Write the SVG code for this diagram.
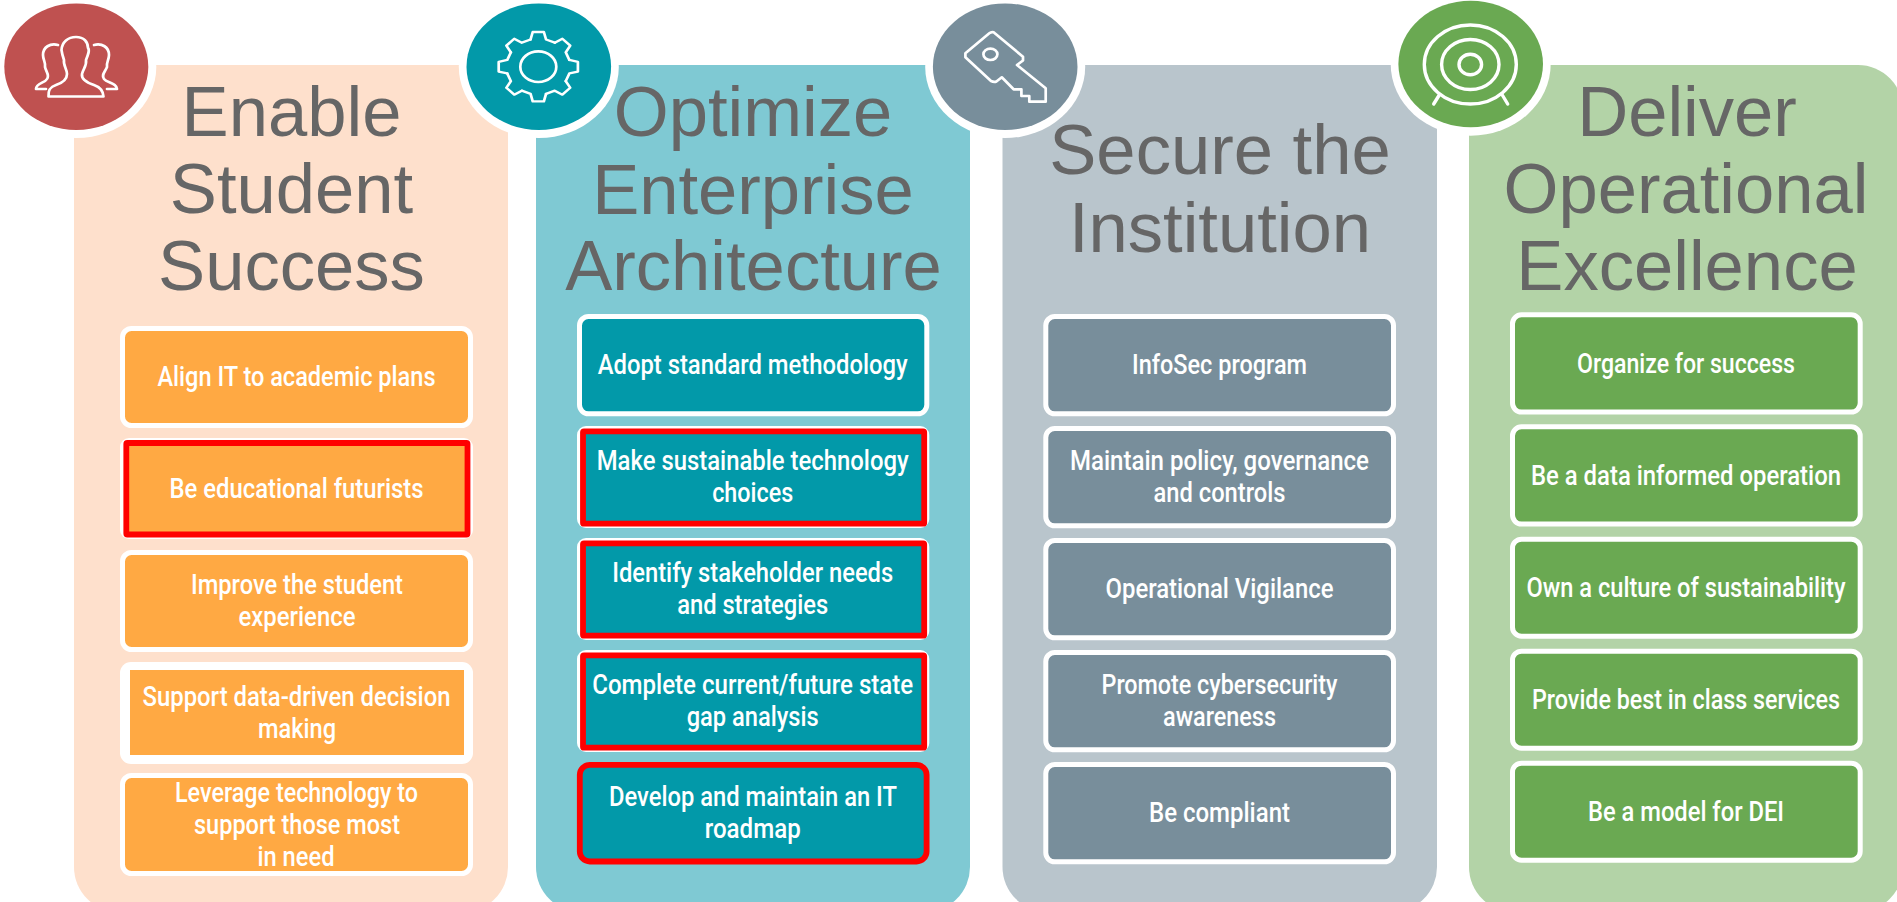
<svg xmlns="http://www.w3.org/2000/svg" width="1897" height="902" viewBox="0 0 1897 902">
<style>
.h{font-family:"Liberation Sans",Arial,sans-serif;font-size:70.6px;fill:#666;text-anchor:middle}
.t{font-family:"Liberation Sans Narrow","Roboto",sans-serif;font-size:27.5px;font-weight:500;fill:#fff;text-anchor:middle}
.halo{fill:#fff}
.i{fill:none;stroke:#fff;stroke-width:2.7;stroke-linejoin:round;stroke-linecap:round}
.w{stroke:#fff;stroke-width:5}
.r{stroke:#f00;stroke-width:5.8}
.o{fill:#ffa943}.c{fill:#0299a9}.g{fill:#788e9b}.v{fill:#6aa952}
</style>
<defs>
<path id="tooth" d="M31.05,-7.74 L39.6,-5.57 V5.57 L31.05,7.74 L27.43,16.48"/>
</defs>
<g id="connectors"/>

<g id="enable-student-success">
<rect x="74" y="65" width="434" height="847" rx="45" fill="#fee0cc"/>
<ellipse class="halo" cx="76.3" cy="66.7" rx="80" ry="71.3"/>
<ellipse cx="76.3" cy="66.7" rx="72" ry="63.3" fill="#bf5150"/>
<g class="i">
<path d="M48.5,96.5 H103.5 C103,90 100,87 94,85 C88,83 81,80 82,74 C83,69 87,66 86,60 C88,55 90,50 88,48 C88,42 84,37 76,37 C68,37 62,42 61.5,50 C62,54 63,57 64,60 C63,65 67,69 67,74 C67,80 62,83 56,85 C50,87 48,90 48.5,96.5Z"/>
<path d="M58,45 C50,43 43,47 43,55 C43,60 46,63 45,67 C46,72 50,75 47,79 C45,83 36,83 36,89 H46"/>
<path d="M94,45 C102,43 109,47 109,55 C109,60 106,63 107,67 C105,72 101,75 104,79 C107,83 117,83 117,89 H107"/>
</g>
<text class="h" x="291.5" y="136">Enable</text>
<text class="h" x="291.5" y="213">Student</text>
<text class="h" x="291.5" y="290">Success</text>
</g>
<g id="b1-1"><rect class="o w" x="122.5" y="328.5" width="348" height="97" rx="9"/><text class="t" x="296.5" y="386" textLength="278" lengthAdjust="spacingAndGlyphs">Align IT to academic plans</text></g>
<g id="b1-2"><rect fill="#fff" x="120" y="438" width="353" height="101" rx="9"/><rect class="o r" x="126.3" y="443" width="341.2" height="91.5" rx="1"/><text class="t" x="296.5" y="498" textLength="254" lengthAdjust="spacingAndGlyphs">Be educational futurists</text></g>
<g id="b1-3"><rect class="o w" x="122.5" y="552.5" width="348" height="97" rx="9"/><text class="t" x="297" y="594" textLength="212" lengthAdjust="spacingAndGlyphs">Improve the student</text><text class="t" x="297" y="626" textLength="117" lengthAdjust="spacingAndGlyphs">experience</text></g>
<g id="b1-4"><rect fill="#fff" x="120" y="662" width="353" height="102" rx="11"/><rect class="o" x="130" y="670" width="334" height="85"/><text class="t" x="296.5" y="706" textLength="308" lengthAdjust="spacingAndGlyphs">Support data-driven decision</text><text class="t" x="297" y="738" textLength="78" lengthAdjust="spacingAndGlyphs">making</text></g>
<g id="b1-5"><rect class="o w" x="122.5" y="775.5" width="348" height="98" rx="9"/><text class="t" x="296.5" y="802" textLength="243" lengthAdjust="spacingAndGlyphs">Leverage technology to</text><text class="t" x="297" y="834" textLength="206" lengthAdjust="spacingAndGlyphs">support those most</text><text class="t" x="296" y="866" textLength="77" lengthAdjust="spacingAndGlyphs">in need</text></g>

<g id="optimize-enterprise-architecture">
<rect x="536" y="65" width="434" height="847" rx="45" fill="#7fc9d3"/>
<ellipse class="halo" cx="538.8" cy="66.7" rx="80" ry="71.3"/>
<ellipse cx="538.8" cy="66.7" rx="72.3" ry="63.3" fill="#0299a9"/>
<g class="i">
<ellipse cx="538.3" cy="66.7" rx="18" ry="15.3"/>
<g transform="translate(538.3,66.7) scale(1,.875)">
<use href="#tooth"/><use href="#tooth" transform="rotate(45)"/><use href="#tooth" transform="rotate(90)"/><use href="#tooth" transform="rotate(135)"/><use href="#tooth" transform="rotate(180)"/><use href="#tooth" transform="rotate(225)"/><use href="#tooth" transform="rotate(270)"/><use href="#tooth" transform="rotate(315)"/>
</g>
</g>
<text class="h" x="753" y="136">Optimize</text>
<text class="h" x="753" y="213.5">Enterprise</text>
<text class="h" x="753.5" y="290">Architecture</text>
</g>
<g id="b2-1"><rect class="c w" x="579.5" y="316.5" width="347.3" height="97.3" rx="9"/><text class="t" x="752.7" y="374" textLength="310" lengthAdjust="spacingAndGlyphs">Adopt standard methodology</text></g>
<g id="b2-2"><rect fill="#fff" x="577" y="426" width="352.3" height="102" rx="9"/><rect class="c r" x="583" y="431.3" width="341.2" height="92.4" rx="1"/><text class="t" x="752.7" y="470" textLength="312" lengthAdjust="spacingAndGlyphs">Make sustainable technology</text><text class="t" x="752.7" y="502" textLength="81" lengthAdjust="spacingAndGlyphs">choices</text></g>
<g id="b2-3"><rect fill="#fff" x="577" y="538" width="352.3" height="102" rx="9"/><rect class="c r" x="583" y="543.3" width="341.2" height="92.4" rx="1"/><text class="t" x="752.7" y="582" textLength="281" lengthAdjust="spacingAndGlyphs">Identify stakeholder needs</text><text class="t" x="752.7" y="614" textLength="151" lengthAdjust="spacingAndGlyphs">and strategies</text></g>
<g id="b2-4"><rect fill="#fff" x="577" y="650" width="352.3" height="102" rx="9"/><rect class="c r" x="583" y="655.3" width="341.2" height="92.4" rx="1"/><text class="t" x="752.7" y="694" textLength="321" lengthAdjust="spacingAndGlyphs">Complete current/future state</text><text class="t" x="752.7" y="726" textLength="132" lengthAdjust="spacingAndGlyphs">gap analysis</text></g>
<g id="b2-5"><rect class="c r" x="579.8" y="764.8" width="346.8" height="96.7" rx="10"/><text class="t" x="753" y="806" textLength="288" lengthAdjust="spacingAndGlyphs">Develop and maintain an IT</text><text class="t" x="752.7" y="838" textLength="96" lengthAdjust="spacingAndGlyphs">roadmap</text></g>

<g id="secure-the-institution">
<rect x="1002.5" y="65" width="434.5" height="847" rx="45" fill="#b9c5cc"/>
<ellipse class="halo" cx="1005.2" cy="66.7" rx="80" ry="71.3"/>
<ellipse cx="1005.2" cy="66.7" rx="72.3" ry="63.3" fill="#788e9b"/>
<g class="i">
<path d="M993.6,32.3 L1023,56.7 V60.5 L1017,65 L1045.7,88.3 V101.7 H1029.3 V96 H1021.4 V89.3 H1013.6 L1001.8,77.3 L996.4,81.5 Q994,82.5 991,81 L965.4,57.3 V53.3 L989.3,33.3 Q991.5,31.5 993.6,32.3Z"/>
<ellipse cx="990.4" cy="54.3" rx="7" ry="5.7"/>
</g>
<text class="h" x="1220" y="174">Secure the</text>
<text class="h" x="1220" y="251.5">Institution</text>
</g>
<g id="b3-1"><rect class="g w" x="1045.8" y="316.5" width="347.7" height="97.3" rx="9"/><text class="t" x="1219.5" y="374" textLength="175" lengthAdjust="spacingAndGlyphs">InfoSec program</text></g>
<g id="b3-2"><rect class="g w" x="1045.8" y="428.5" width="347.7" height="97.3" rx="9"/><text class="t" x="1219.5" y="470" textLength="299" lengthAdjust="spacingAndGlyphs">Maintain policy, governance</text><text class="t" x="1219.5" y="502" textLength="132" lengthAdjust="spacingAndGlyphs">and controls</text></g>
<g id="b3-3"><rect class="g w" x="1045.8" y="540.5" width="347.7" height="97.3" rx="9"/><text class="t" x="1219.5" y="598" textLength="228" lengthAdjust="spacingAndGlyphs">Operational Vigilance</text></g>
<g id="b3-4"><rect class="g w" x="1045.8" y="652.5" width="347.7" height="97.3" rx="9"/><text class="t" x="1219.5" y="694" textLength="236" lengthAdjust="spacingAndGlyphs">Promote cybersecurity</text><text class="t" x="1219.5" y="726" textLength="113" lengthAdjust="spacingAndGlyphs">awareness</text></g>
<g id="b3-5"><rect class="g w" x="1045.8" y="764.5" width="347.7" height="97.3" rx="9"/><text class="t" x="1219.5" y="821.7" textLength="141" lengthAdjust="spacingAndGlyphs">Be compliant</text></g>

<g id="deliver-operational-excellence">
<rect x="1469" y="65" width="434" height="847" rx="45" fill="#b3d3a7"/>
<ellipse class="halo" cx="1470.7" cy="64" rx="80" ry="71.7"/>
<ellipse cx="1470.7" cy="64" rx="72.3" ry="63.3" fill="#6aa952"/>
<g class="i" style="stroke-width:3.4">
<ellipse cx="1470.3" cy="64.5" rx="46" ry="39.5"/>
<ellipse cx="1470.3" cy="64.5" rx="28.7" ry="25"/>
<ellipse cx="1470.3" cy="64.5" rx="11.3" ry="10.3"/>
<path d="M1439.3,95 L1433.7,104 M1502.3,95 L1507.7,104"/>
</g>
<text class="h" x="1687" y="136">Deliver</text>
<text class="h" x="1686" y="213">Operational</text>
<text class="h" x="1687" y="290">Excellence</text>
</g>
<g id="b4-1"><rect class="v w" x="1512.5" y="314.8" width="347.7" height="97.3" rx="9"/><text class="t" x="1686" y="372.7" textLength="218" lengthAdjust="spacingAndGlyphs">Organize for success</text></g>
<g id="b4-2"><rect class="v w" x="1512.5" y="426.8" width="347.7" height="97.3" rx="9"/><text class="t" x="1686" y="485" textLength="310" lengthAdjust="spacingAndGlyphs">Be a data informed operation</text></g>
<g id="b4-3"><rect class="v w" x="1512.5" y="539.2" width="347.7" height="97" rx="9"/><text class="t" x="1686" y="597" textLength="319" lengthAdjust="spacingAndGlyphs">Own a culture of sustainability</text></g>
<g id="b4-4"><rect class="v w" x="1512.5" y="651.2" width="347.7" height="97" rx="9"/><text class="t" x="1686" y="708.7" textLength="308" lengthAdjust="spacingAndGlyphs">Provide best in class services</text></g>
<g id="b4-5"><rect class="v w" x="1512.5" y="763.2" width="347.7" height="97" rx="9"/><text class="t" x="1686" y="821" textLength="196" lengthAdjust="spacingAndGlyphs">Be a model for DEI</text></g>
</svg>
